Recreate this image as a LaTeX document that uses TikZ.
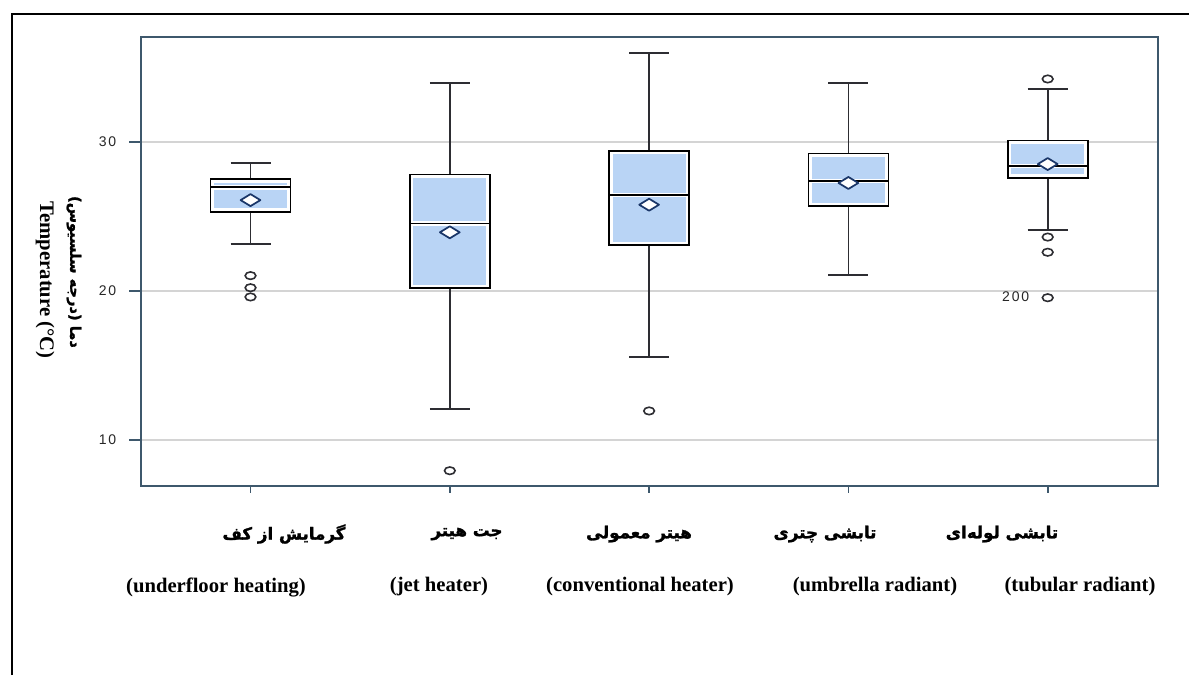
\documentclass[tikz,border=0pt]{standalone}
\usepackage{fontspec}
\setmainfont{Liberation Serif}
\newfontfamily\arabicfont[Script=Arabic, BoldFeatures={FakeBold=1.6}]{DejaVu Sans}
\newfontfamily\tickfont[LetterSpace=14]{Liberation Sans}
\TeXXeTstate=1
\definecolor{framecol}{RGB}{62,88,108}
\definecolor{gridcol}{RGB}{212,212,212}
\definecolor{boxblue}{RGB}{185,212,245}
\definecolor{whiskcol}{RGB}{45,45,50}
\definecolor{meancol}{RGB}{26,54,104}
\tikzset{
  gridline/.style={gridcol, line width=0.8pt},
  axisframe/.style={framecol, line width=1.4pt},
  tickmark/.style={framecol, line width=1.2pt},
  boxedge/.style={black, line width=1.25pt},
  whisk/.style={whiskcol, line width=1.3pt},
  meanmark/.style={meancol, line width=1.3pt, fill=white, line join=round},
  outlier/.style={whiskcol, line width=1.2pt},
  ticklabel/.style={font=\tickfont\fontsize{10.5}{12}\selectfont, text=black!85},
  englabel/.style={font=\bfseries\fontsize{15.5}{18}\selectfont},
  perlabel/.style={font=\arabicfont\bfseries\fontsize{12.5}{15}\selectfont},
}
% #1 x, #2 wlo, #3 q1, #4 med, #5 q3, #6 whi, #7 mean
\newcommand\bxplot[7]{%
  \draw[whisk] (#1,#5) -- (#1,#6);
  \draw[whisk] (#1,#3) -- (#1,#2);
  \draw[whisk] (#1-20,#6) -- (#1+20,#6);
  \draw[whisk] (#1-20,#2) -- (#1+20,#2);
  \fill[white] (#1-40,#3) rectangle (#1+40,#5);
  \fill[boxblue] ([xshift=2.6pt,yshift=2.6pt]#1-40,#3) rectangle ([xshift=-2.6pt,yshift=-1.8pt]#1+40,#4);
  \fill[boxblue] ([xshift=2.6pt,yshift=1.8pt]#1-40,#4) rectangle ([xshift=-2.6pt,yshift=-2.6pt]#1+40,#5);
  \draw[boxedge] (#1-40,#3) rectangle (#1+40,#5);
  \draw[boxedge] (#1-40,#4) -- (#1+40,#4);
  \draw[meanmark] ([xshift=-7.4pt]#1,#7) -- ([yshift=4.5pt]#1,#7) -- ([xshift=7.4pt]#1,#7) -- ([yshift=-4.5pt]#1,#7) -- cycle;
}
\newcommand\outl[2]{\draw[outlier] (#1,#2) ellipse [x radius=4pt, y radius=2.8pt];}
\begin{document}
\begin{tikzpicture}[x=0.75pt, y=-0.75pt]
\useasboundingbox (0,0) rectangle (1189,675);
% outer frame
\draw[line width=1.5pt] (12,675) -- (12,14) -- (1189,14);
% grid
\foreach \yy in {142,291,440}{
  \draw[gridline] (141,\yy) -- (1158,\yy);
  \draw[tickmark] (129,\yy) -- (141,\yy);
}
\node[ticklabel, anchor=east] (t30) at (121,142) {30};
\node[ticklabel, anchor=east] (t20) at (121,291) {20};
\node[ticklabel, anchor=east] (t10) at (121,440) {10};
\foreach \xx in {250.5,449.8,649.1,848.4,1047.7}{
  \draw[tickmark] (\xx,486) -- (\xx,493);
}
% data
\begin{scope}[yshift=-441.75pt, y=11.175pt]
  \bxplot{250.5}{23.15}{25.32}{26.96}{27.5}{28.59}{26.1}
  \outl{250.5}{21.03}\outl{250.5}{20.22}\outl{250.5}{19.6}
  \bxplot{449.8}{12.08}{20.18}{24.54}{27.83}{33.98}{23.94}
  \outl{449.8}{7.94}
  \bxplot{649.1}{15.59}{23.07}{26.44}{29.4}{35.99}{25.79}
  \outl{649.1}{11.95}
  \bxplot{848.4}{21.07}{25.7}{27.38}{29.23}{33.96}{27.25}
  \bxplot{1047.7}{24.09}{27.6}{28.39}{30.09}{33.58}{28.52}
  \outl{1047.7}{34.23}\outl{1047.7}{23.62}\outl{1047.7}{22.6}\outl{1047.7}{19.55}
\end{scope}
\node[ticklabel, anchor=east] (lab200) at (1034,297) {200};
\draw[axisframe] (141,37) rectangle (1158,486);
% axis titles
\node[rotate=-90, englabel] (ytitle) at (45,280) {Temperature (°C)};
\node[rotate=-90, font=\arabicfont\bfseries\fontsize{11}{13}\selectfont] (ytitlefa) at (74,272) {\beginR دما (درجه سلسیوس)\endR};
% category labels
\node[perlabel] (p1) at (284,534) {\beginR گرمایش از کف\endR};
\node[perlabel] (p2) at (467,534) {\beginR جت هیتر\endR};
\node[perlabel] (p3) at (639,534) {\beginR هیتر معمولی\endR};
\node[perlabel] (p4) at (825,534) {\beginR تابشی چتری\endR};
\node[perlabel] (p5) at (1002,534) {\beginR تابشی لوله‌ای\endR};
\node[englabel] (e1) at (216,587) {(underfloor heating)};
\node[englabel] (e2) at (439,587) {(jet heater)};
\node[englabel] (e3) at (640,587) {(conventional heater)};
\node[englabel] (e4) at (875,587) {(umbrella radiant)};
\node[englabel] (e5) at (1080,587) {(tubular radiant)};
\end{tikzpicture}
\end{document}
